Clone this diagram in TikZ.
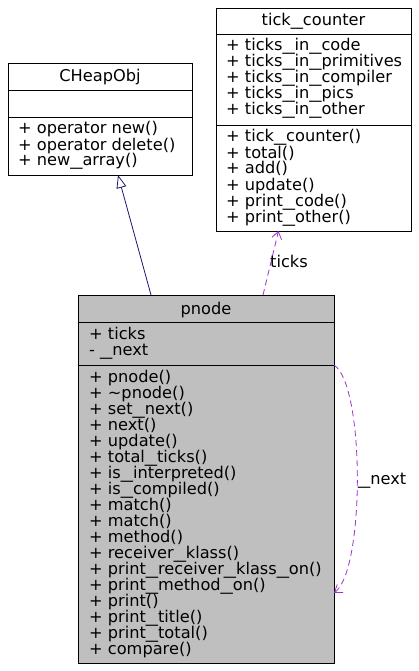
\documentclass[tikz,border=0pt]{standalone}
\usepackage{fontspec}
\setmainfont{DejaVu Sans}
\usepackage{graphicx}
\usetikzlibrary{arrows.meta}
\newcommand\us{\scalebox{1.5}[1]{\_}}
\definecolor{edgeblue}{HTML}{191970}
\definecolor{edgepurple}{HTML}{9A32CD}
\definecolor{boxgray}{HTML}{BFBFBF}
\begin{document}
\begin{tikzpicture}[x=1pt,y=-1pt,
  cls/.style={draw=black, line width=0.8pt, inner sep=0pt, outer sep=0pt, anchor=north west},
  sepline/.style={draw=black, line width=0.8pt},
  txt/.style={font=\fontsize{16.2pt}{16pt}\selectfont, inner sep=0pt, anchor=base west},
  ttl/.style={font=\fontsize{16.2pt}{16pt}\selectfont, inner sep=0pt, anchor=base},
  inherit/.style={draw=edgeblue, line width=0.8pt, -{Triangle[open, length=13pt, width=10pt]}},
  usage/.style={draw=edgepurple, line width=0.8pt, dash pattern=on 6pt off 4pt, -{Straight Barb[length=7pt, width=10pt]}},
  elabel/.style={font=\fontsize{16.2pt}{16pt}\selectfont, inner sep=0pt, anchor=base west}]
\useasboundingbox (0,0) rectangle (418,671);

% CHeapObj
\node[cls, minimum width=184pt, minimum height=112pt] (cheap) at (8,63) {};
\draw[sepline] ([yshift=-27pt]cheap.north west) -- ([yshift=-27pt]cheap.north east);
\draw[sepline] ([yshift=-54pt]cheap.north west) -- ([yshift=-54pt]cheap.north east);
\node[ttl] (cheapT) at (100,82) {CHeapObj};
\foreach \t [count=\i] in {{+ operator new()}, {+ operator delete()}, {+ new\us array()}}
  \node[txt] (cm\i) at (18,{134+16*\i-16}) {\t};

% tick_counter
\node[cls, minimum width=195pt, minimum height=223pt] (tick) at (216,8) {};
\draw[sepline] ([yshift=-26pt]tick.north west) -- ([yshift=-26pt]tick.north east);
\draw[sepline] ([yshift=-117pt]tick.north west) -- ([yshift=-117pt]tick.north east);
\node[ttl] (tickT) at (313.5,26) {tick\us counter};
\foreach \t [count=\i] in {{+ ticks\us in\us code}, {+ ticks\us in\us primitives}, {+ ticks\us in\us compiler}, {+ ticks\us in\us pics}, {+ ticks\us in\us other}}
  \node[txt] (ta\i) at (226,{51+16*\i-16}) {\t};
\foreach \t [count=\i] in {{+ tick\us counter()}, {+ total()}, {+ add()}, {+ update()}, {+ print\us code()}, {+ print\us other()}}
  \node[txt] (tm\i) at (226,{142+16*\i-16}) {\t};

% pnode
\node[cls, fill=boxgray, minimum width=256pt, minimum height=368pt] (pnode) at (78,295) {};
\draw[sepline] ([yshift=-27pt]pnode.north west) -- ([yshift=-27pt]pnode.north east);
\draw[sepline] ([yshift=-70pt]pnode.north west) -- ([yshift=-70pt]pnode.north east);
\node[ttl] (pnodeT) at (206,314) {pnode};
\foreach \t [count=\i] in {{+ ticks}, {- \us next}}
  \node[txt] (pa\i) at (89,{339+16*\i-16}) {\t};
\foreach \t [count=\i] in {{+ pnode()}, {+ \textasciitilde pnode()}, {+ set\us next()}, {+ next()}, {+ update()}, {+ total\us ticks()}, {+ is\us interpreted()}, {+ is\us compiled()}, {+ match()}, {+ match()}, {+ method()}, {+ receiver\us klass()}, {+ print\us receiver\us klass\us on()}, {+ print\us method\us on()}, {+ print()}, {+ print\us title()}, {+ print\us total()}, {+ compare()}}
  \node[txt] (pm\i) at (89,{382+16*\i-16}) {\t};

% connectors
\draw[inherit] ([xshift=-55pt]pnode.north) -- ([xshift=18pt]cheap.south);
\draw[usage] ([xshift=57pt]pnode.north) -- ([xshift=-35pt]tick.south);
\node[elabel] (ticksL) at (270,267) {ticks};
\draw[usage] ([yshift=-70pt]pnode.north east) .. controls +(31,20) and +(31,-23) .. ([yshift=-298pt]pnode.north east);
\node[elabel] (nextL) at (358,484) {\us next};
\end{tikzpicture}
\end{document}
